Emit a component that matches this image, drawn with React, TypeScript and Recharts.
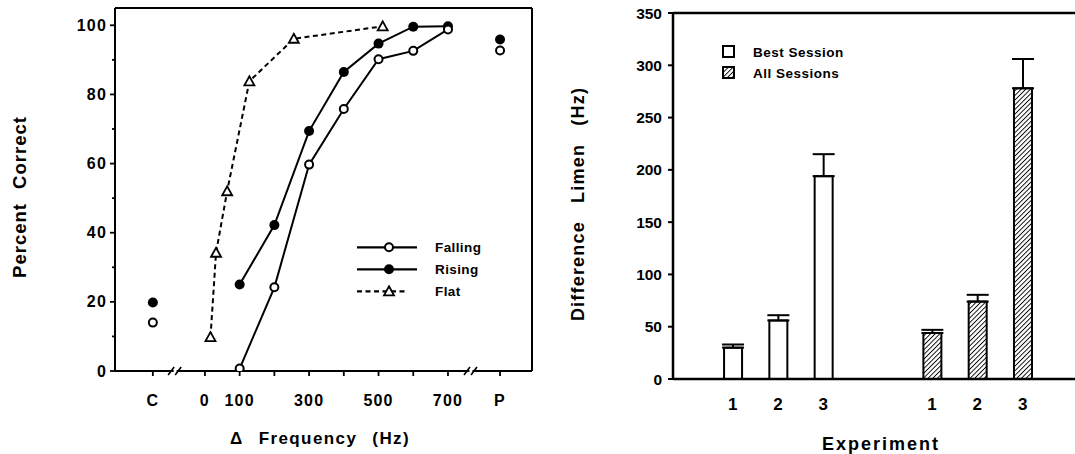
import React from 'react';
import { ScatterChart, Scatter, XAxis, YAxis, Legend, BarChart, Bar, Cell, ErrorBar } from 'recharts';

const FONT = '"Liberation Sans", Arial, Helvetica, sans-serif';
const INK = '#000';

// left panel: percent correct vs. delta frequency
const freqRising = [100, 200, 300, 400, 500, 600, 700];
const pctRising = [25, 42.2, 69.4, 86.5, 94.7, 99.6, 99.7];
const freqFalling = [100, 200, 300, 400, 500, 600, 700];
const pctFalling = [0.7, 24.2, 59.7, 75.8, 90.2, 92.6, 98.8];
const freqFlat = [16, 32, 64, 128, 256, 512];
const pctFlat = [9.8, 34.2, 52, 83.8, 96.1, 99.7];
// C and P conditions sit off the frequency scale
const endFreq = [-150, 850];
const endRising = [19.8, 95.9];
const endFalling = [14, 92.7];

const freqTicks = [-150, 0, 100, 200, 300, 400, 500, 600, 700, 850];
const freqTickLabels = ['C', '0', '100', '', '300', '', '500', '', '700', 'P'];
const freqBreaks = [-80, 772];
const pctTicks = [0, 10, 20, 30, 40, 50, 60, 70, 80, 90, 100];
const contourNames = ['Falling', 'Rising', 'Flat'];

// right panel: difference limen per experiment
const experiments = ['1', '2', '3'];
const bestSession = [30, 56, 194];
const bestSessionErr = [3, 5, 21];
const allSessions = [44, 74, 278];
const allSessionsErr = [3, 6.5, 28];
const dlTicks = [0, 50, 100, 150, 200, 250, 300, 350];
const sessionNames = ['Best Session', 'All Sessions'];

const toPoints = (xs: number[], ys: number[]) => xs.map((x, i) => ({ x, y: ys[i] }));

const GROUP_GAP = 4.4;
const dlRows = [
  ...experiments.map((label, i) => ({ slot: i + 1, label, dl: bestSession[i], err: [0, bestSessionErr[i]], hatched: false })),
  ...experiments.map((label, i) => ({ slot: i + 1 + GROUP_GAP, label, dl: allSessions[i], err: [0, allSessionsErr[i]], hatched: true })),
];

const textStyle = { fontFamily: FONT, fontWeight: 700, fill: INK };

const OpenDot = (p: any) => <circle cx={p.cx} cy={p.cy} r={4} fill="#fff" stroke={INK} strokeWidth={2} />;
const FilledDot = (p: any) => <circle cx={p.cx} cy={p.cy} r={5} fill={INK} />;
const OpenTri = (p: any) => {
  const { cx, cy } = p;
  return (
    <polygon
      points={`${cx},${cy - 5} ${cx + 5},${cy + 4} ${cx - 5},${cy + 4}`}
      fill="#fff"
      stroke={INK}
      strokeWidth={1.8}
    />
  );
};

const PctTick = (props: any) => {
  const { x, y, payload } = props;
  const major = payload.value % 20 === 0;
  return (
    <g>
      <line x1={x} x2={x - (major ? 5 : 3)} y1={y} y2={y} stroke={INK} strokeWidth={1.8} />
      {major && (
        <text x={x - 8} y={y} dy={5.5} textAnchor="end" fontSize={16} letterSpacing={1.2} style={textStyle}>
          {payload.value}
        </text>
      )}
    </g>
  );
};

const FreqTick = (props: any) => {
  const { x, y, payload } = props;
  if (freqBreaks.includes(payload.value)) {
    return (
      <g>
        <rect x={x - 3.5} y={y - 2} width={3} height={4} fill="#fff" />
        <line x1={x - 9} y1={y + 4} x2={x - 3} y2={y - 4} stroke={INK} strokeWidth={1.6} />
        <line x1={x - 2} y1={y + 4} x2={x + 4} y2={y - 4} stroke={INK} strokeWidth={1.6} />
      </g>
    );
  }
  const label = freqTickLabels[freqTicks.indexOf(payload.value)];
  return (
    <g>
      <line x1={x} x2={x} y1={y} y2={y + 5} stroke={INK} strokeWidth={1.8} />
      {label && (
        <text x={x} y={y + 34.5} textAnchor="middle" fontSize={16} letterSpacing={1.2} style={textStyle}>
          {label}
        </text>
      )}
    </g>
  );
};

function ContourLegend() {
  const markers = [OpenDot, FilledDot, OpenTri];
  return (
    <svg width={160} height={70}>
      {contourNames.map((name, i) => {
        const y = 12.3 + i * 22;
        const Marker = markers[i];
        return (
          <g key={name}>
            <line
              x1={7}
              x2={i === 2 ? 58 : 67}
              y1={y}
              y2={y}
              stroke={INK}
              strokeWidth={2.2}
              strokeDasharray={i === 2 ? '5 3.5' : undefined}
            />
            <Marker cx={39} cy={y} />
            <text x={85} y={y + 5} fontSize={13.5} letterSpacing={0.4} style={textStyle}>
              {name}
            </text>
          </g>
        );
      })}
    </svg>
  );
}

function SessionLegend() {
  return (
    <svg width={170} height={45}>
      {sessionNames.map((name, i) => {
        const y = 1 + i * 21;
        return (
          <g key={name}>
            <rect x={1} y={y} width={11} height={11} fill={i === 1 ? 'url(#hatch)' : '#fff'} stroke={INK} strokeWidth={2} />
            <text x={31} y={y + 10.5} fontSize={13.5} letterSpacing={0.5} style={textStyle}>
              {name}
            </text>
          </g>
        );
      })}
    </svg>
  );
}

const axisLine = { stroke: INK, strokeWidth: 2 };

export default function App() {
  return (
    <div style={{ position: 'absolute', left: 0, top: 0, width: 1075, height: 454, background: '#fff' }}>
      <svg width={0} height={0} style={{ position: 'absolute' }}>
        <defs>
          <pattern id="hatch" patternUnits="userSpaceOnUse" width={3.3} height={3.3} patternTransform="rotate(45)">
            <rect width={3.3} height={3.3} fill="#fff" />
            <line x1={0} y1={0} x2={0} y2={3.3} stroke={INK} strokeWidth={1.8} />
          </pattern>
        </defs>
      </svg>

      <div style={{ position: 'absolute', left: 0, top: 0 }}>
        <ScatterChart width={545} height={454} margin={{ top: 7, right: 12, bottom: 82, left: 114 }}>
          <XAxis
            type="number"
            dataKey="x"
            domain={[-259, 942]}
            allowDataOverflow
            ticks={[...freqTicks, ...freqBreaks]}
            interval={0}
            tick={<FreqTick />}
            tickLine={false}
            tickSize={0}
            tickMargin={0}
            height={1}
            axisLine={axisLine}
            label={() => (
              <text x={320} y={444} textAnchor="middle" fontSize={17} letterSpacing={1.4} wordSpacing={9} style={textStyle}>
                Δ Frequency (Hz)
              </text>
            )}
          />
          <XAxis xAxisId="top" orientation="top" type="number" domain={[-259, 942]} allowDataOverflow tick={false} tickLine={false} height={1} axisLine={axisLine} />
          <YAxis
            type="number"
            dataKey="y"
            domain={[0, 105]}
            allowDataOverflow
            ticks={pctTicks}
            interval={0}
            tick={<PctTick />}
            tickLine={false}
            tickSize={0}
            tickMargin={0}
            width={1}
            axisLine={axisLine}
            label={() => (
              <text
                x={19}
                y={197}
                transform="rotate(-90 19 197)"
                dy={6.5}
                textAnchor="middle"
                fontSize={18.5}
                letterSpacing={1}
                wordSpacing={8}
                style={textStyle}
              >
                Percent Correct
              </text>
            )}
          />
          <YAxis yAxisId="right" orientation="right" type="number" domain={[0, 105]} allowDataOverflow tick={false} tickLine={false} width={1} axisLine={axisLine} />
          <Scatter
            name="Flat"
            data={toPoints(freqFlat, pctFlat)}
            line={{ stroke: INK, strokeWidth: 2, strokeDasharray: '5 3.5' }}
            shape={OpenTri}
            isAnimationActive={false}
          />
          <Scatter name="Rising" data={toPoints(freqRising, pctRising)} line={{ stroke: INK, strokeWidth: 2 }} shape={FilledDot} isAnimationActive={false} />
          <Scatter name="Falling" data={toPoints(freqFalling, pctFalling)} line={{ stroke: INK, strokeWidth: 2 }} shape={OpenDot} isAnimationActive={false} />
          <Scatter name="Rising ends" data={toPoints(endFreq, endRising)} shape={FilledDot} isAnimationActive={false} />
          <Scatter name="Falling ends" data={toPoints(endFreq, endFalling)} shape={OpenDot} isAnimationActive={false} />
          <Legend
            layout="vertical"
            align="center"
            verticalAlign="middle"
            wrapperStyle={{ left: 350, top: 235, width: 160, height: 70 }}
            content={() => <ContourLegend />}
          />
        </ScatterChart>
      </div>

      <div style={{ position: 'absolute', left: 545, top: 0 }}>
        <BarChart width={530} height={454} data={dlRows} margin={{ top: 12, right: 0, bottom: 74, left: 127 }} barSize={18}>
          <XAxis
            type="number"
            dataKey="slot"
            domain={[-0.318, 8.556]}
            allowDataOverflow
            ticks={dlRows.map((r) => r.slot)}
            interval={0}
            tickFormatter={(v: number) => dlRows.find((r) => r.slot === v)?.label ?? ''}
            tickLine={false}
            tickSize={0}
            tickMargin={19}
            height={1}
            axisLine={{ stroke: INK, strokeWidth: 2.5 }}
            tick={{ ...textStyle, fontSize: 17 }}
            label={() => (
              <text x={336} y={450} textAnchor="middle" fontSize={18} letterSpacing={2} style={textStyle}>
                Experiment
              </text>
            )}
          />
          <XAxis xAxisId="top" orientation="top" type="number" domain={[-0.318, 8.556]} allowDataOverflow tick={false} tickLine={false} height={1} axisLine={{ stroke: INK, strokeWidth: 2.5 }} />
          <YAxis
            type="number"
            domain={[0, 350]}
            allowDataOverflow
            ticks={dlTicks}
            interval={0}
            width={1}
            tickSize={5}
            tickMargin={6}
            tickLine={{ stroke: INK, strokeWidth: 2 }}
            axisLine={{ stroke: INK, strokeWidth: 2.5 }}
            tick={{ ...textStyle, fontSize: 15.5 }}
            label={() => (
              <text
                x={32.5}
                y={204}
                transform="rotate(-90 32.5 204)"
                dy={6.5}
                textAnchor="middle"
                fontSize={18}
                letterSpacing={1.2}
                wordSpacing={12}
                style={textStyle}
              >
                Difference Limen (Hz)
              </text>
            )}
          />
          <Bar dataKey="dl" stroke={INK} strokeWidth={2} isAnimationActive={false}>
            {dlRows.map((r) => (
              <Cell key={`${r.slot}`} fill={r.hatched ? 'url(#hatch)' : '#fff'} />
            ))}
            <ErrorBar dataKey="err" direction="y" width={11} stroke={INK} strokeWidth={2} isAnimationActive={false} />
          </Bar>
          <Legend
            layout="vertical"
            align="center"
            verticalAlign="middle"
            wrapperStyle={{ left: 177, top: 45, width: 170, height: 45 }}
            content={() => <SessionLegend />}
          />
        </BarChart>
      </div>
    </div>
  );
}
